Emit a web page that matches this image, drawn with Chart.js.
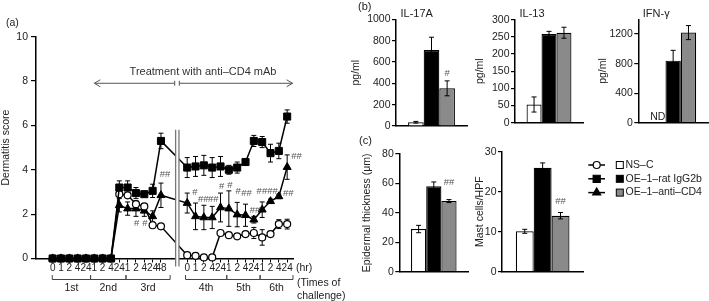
<!DOCTYPE html>
<html>
<head>
<meta charset="utf-8">
<script src="https://cdn.jsdelivr.net/npm/chart.js@4.4.1/dist/chart.umd.min.js"></script>
<style>
  html, body { margin: 0; padding: 0; background: #fff; }
  #wrap { position: relative; width: 709px; height: 301px; overflow: hidden; }
  canvas { position: absolute; }
</style>
</head>
<body>
<div id="wrap">
  <canvas id="scoreChart" width="345" height="301" style="left:0;top:0"></canvas>
  <canvas id="il17Chart" width="125" height="135" style="left:345px;top:0"></canvas>
  <canvas id="il13Chart" width="120" height="135" style="left:470px;top:0"></canvas>
  <canvas id="ifnChart" width="119" height="135" style="left:590px;top:0"></canvas>
  <canvas id="epiChart" width="125" height="166" style="left:345px;top:135px"></canvas>
  <canvas id="mastChart" width="239" height="166" style="left:470px;top:135px"></canvas>
</div>
<script>
Chart.defaults.font.family = '"Liberation Sans", Arial, Helvetica, sans-serif';
Chart.defaults.font.size = 10.5;
Chart.defaults.color = '#222';
Chart.defaults.animation = false;
Chart.defaults.responsive = false;
Chart.defaults.plugins.legend.display = false;
Chart.defaults.plugins.tooltip.enabled = false;

// ---- (a) dermatitis score time course ----
const tickLabels = ['0','1','2','4','24','1','2','4','24','1','2','4','24','48',
                    '0','1','2','4','24','1','2','4','24','1','2','4','24'];
const xPos = [0,1,2,3,4,5,6,7,8,9,10,11,12,13,
              16.15,17.15,18.15,19.15,20.15,21.15,22.15,23.15,24.15,25.15,26.15,27.15,28.15];

const nsc    = [0,0,0,0,0,0,0,0, 2.9,2.85,2.45,2.35,1.5,1.45,
                0.15,0.12,0.05,0.05,1.15,1.05,1.0,1.1,1.15,0.95,1.1,1.55,1.55];
const nscErr = [0,0,0,0,0,0,0,0, 0.1,0.08,0.1,0.1,0.1,0.08,
                0.05,0.05,0.05,0.05,0.08,0.08,0.1,0.12,0.25,0.35,0.1,0.2,0.22];
const rat    = [0,0,0,0,0,0,0,0, 3.2,3.2,2.95,2.9,3.05,5.3,
                4.1,4.15,4.2,4.1,4.15,4.0,4.1,4.35,5.3,5.25,4.75,4.85,6.4];
const ratErr = [0,0,0,0,0,0,0,0, 0.3,0.3,0.25,0.1,0.3,0.35,
                0.45,0.45,0.45,0.45,0.45,0.2,0.25,0.1,0.25,0.25,0.4,0.35,0.3];
const cd4    = [0,0,0,0,0,0,0,0, 2.4,2.25,2.25,2.15,1.9,2.85,
                2.5,1.9,1.85,1.85,2.3,2.25,1.98,1.95,1.75,2.2,2.58,2.8,4.12];
const cd4Err = [0,0,0,0,0,0,0,0, 0.3,0.3,0.35,0.25,0.25,0.55,
                0.45,0.6,0.55,0.5,0.65,0.8,0.55,0.5,0.15,0.35,0.1,0.1,0.55];

const challenges = [
  ['1st', -0.05, 4.55], ['2nd', 4.55, 8.8], ['3rd', 8.8, 14.1],
  ['4th', 15.95, 20.9], ['5th', 20.9, 24.9], ['6th', 24.9, 28.85]
];
const hashMarks = [
  [10.08,1.6,'#'], [11.08,1.6,'#'], [13.5,3.8,'##'],
  [17.08,2.97,'#'], [18.07,2.67,'##'], [19.27,2.67,'##'], [20.28,3.24,'#'], [21.28,3.31,'#'],
  [22.27,3.01,'#'], [23.28,2.94,'##'], [24.28,2.19,'##'], [25.75,3.04,'####'],
  [28.27,2.94,'##'], [29.28,4.59,'##']
];

// ---- (b), (c) bar panels ----
const groups  = ['NS–C', 'OE–1–rat IgG2b', 'OE–1–anti–CD4'];
const barFill = ['#ffffff', '#000000', '#8a8a8a'];
const il17 = [35, 712, 353],   il17Err = [8, 120, 70];
const il13 = [53, 258, 262],   il13Err = [22, 8, 16];
const ifn  = [null, 840, 1220], ifnErr = [0, 140, 95];
const epi  = [29, 58, 48],     epiErr  = [2.5, 3, 1];
const mast = [10.1, 26, 14],   mastErr = [0.5, 1.2, 0.8];

const pts = arr => arr.map((v, i) => ({x: xPos[i], y: v}));

// error bars for both chart types
function drawErrors(chart) {
  const {ctx, scales: {y}} = chart;
  ctx.save();
  ctx.strokeStyle = '#000';
  ctx.lineWidth = 1;
  chart.data.datasets.forEach((ds, di) => {
    if (!ds.errors) return;
    const meta = chart.getDatasetMeta(di);
    ds.data.forEach((d, i) => {
      const v = (d !== null && typeof d === 'object') ? d.y : d;
      const e = ds.errors[i];
      if (v === null || !e) return;
      const px = meta.data[i].x;
      const t = y.getPixelForValue(v + e), b = y.getPixelForValue(v - e);
      ctx.beginPath();
      ctx.moveTo(px, t); ctx.lineTo(px, b);
      ctx.moveTo(px - 2.5, t); ctx.lineTo(px + 2.5, t);
      ctx.moveTo(px - 2.5, b); ctx.lineTo(px + 2.5, b);
      ctx.stroke();
    });
  });
  ctx.restore();
}
const errorBars = {
  id: 'errorBars',
  beforeDatasetsDraw(chart) { if (chart.config.type === 'line') drawErrors(chart); },
  afterDatasetsDraw(chart) { if (chart.config.type === 'bar') drawErrors(chart); }
};

const scoreExtras = {
  id: 'scoreExtras',
  afterDraw(chart) {
    const {ctx, chartArea: a, scales: {x, y}} = chart;
    ctx.save();
    ctx.font = '10.5px "Liberation Sans", Arial, sans-serif';
    ctx.textBaseline = 'middle';

    // axis break
    const b1 = x.getPixelForValue(14.76), b2 = x.getPixelForValue(15.16);
    const bTop = y.getPixelForValue(5.8);
    ctx.fillStyle = '#fff';
    ctx.fillRect(b1, bTop, b2 - b1, a.bottom + 9 - bTop);
    ctx.strokeStyle = '#777';
    ctx.lineWidth = 1.3;
    ctx.beginPath();
    ctx.moveTo(b1, bTop); ctx.lineTo(b1, a.bottom + 8);
    ctx.moveTo(b2, bTop); ctx.lineTo(b2, a.bottom + 8);
    ctx.stroke();

    // challenge brackets
    ctx.fillStyle = '#222';
    ctx.strokeStyle = '#444';
    ctx.lineWidth = 1;
    ctx.textAlign = 'center';
    challenges.forEach(([lab, from, to]) => {
      const l = x.getPixelForValue(from), r = x.getPixelForValue(to);
      ctx.beginPath();
      ctx.moveTo(l, a.bottom + 16.5); ctx.lineTo(l, a.bottom + 21);
      ctx.lineTo(r, a.bottom + 21); ctx.lineTo(r, a.bottom + 16.5);
      ctx.stroke();
      ctx.fillText(lab, (l + r) / 2, a.bottom + 30);
    });
    ctx.textAlign = 'left';
    ctx.fillText('(hr)', 296, a.bottom + 9.5);
    ctx.fillText('(Times of', 297, a.bottom + 25);
    ctx.fillText('challenge)', 297, a.bottom + 38);
    ctx.fillText('(a)', 6, 23.5);

    // treatment arrow
    const ay = y.getPixelForValue(7.9);
    const al = x.getPixelForValue(5), ar = x.getPixelForValue(28.8);
    const g1 = x.getPixelForValue(14.65), g2 = x.getPixelForValue(15.2);
    ctx.strokeStyle = '#555';
    ctx.lineWidth = 1;
    ctx.beginPath();
    ctx.moveTo(al, ay); ctx.lineTo(g1, ay);
    ctx.moveTo(g2, ay); ctx.lineTo(ar, ay);
    ctx.moveTo(g1, ay - 2.5); ctx.lineTo(g1, ay + 2.5);
    ctx.moveTo(g2, ay - 2.5); ctx.lineTo(g2, ay + 2.5);
    ctx.moveTo(al + 6, ay - 3.5); ctx.lineTo(al, ay); ctx.lineTo(al + 6, ay + 3.5);
    ctx.moveTo(ar - 6, ay - 3.5); ctx.lineTo(ar, ay); ctx.lineTo(ar - 6, ay + 3.5);
    ctx.stroke();
    ctx.fillStyle = '#333';
    ctx.font = '11px "Liberation Sans", Arial, sans-serif';
    ctx.textAlign = 'center';
    ctx.fillText('Treatment with anti–CD4 mAb', x.getPixelForValue(18.05), ay - 11.6);

    // significance marks
    ctx.fillStyle = '#555';
    ctx.font = '9.5px "Liberation Sans", Arial, sans-serif';
    hashMarks.forEach(([hx, hy, t]) => {
      ctx.fillText(t, x.getPixelForValue(hx), y.getPixelForValue(hy));
    });
    ctx.restore();
  }
};

const lineStyle = {borderColor: '#000', borderWidth: 1.5, pointBorderColor: '#000',
                   pointBorderWidth: 1, clip: false, tension: 0};

new Chart(document.getElementById('scoreChart'), {
  type: 'line',
  data: {
    datasets: [
      {...lineStyle, label: groups[1], data: pts(rat), errors: ratErr,
       pointStyle: 'rect', pointRadius: 5, pointBackgroundColor: '#000'},
      {...lineStyle, label: groups[0], data: pts(nsc), errors: nscErr,
       pointStyle: 'circle', pointRadius: 3.5, pointBackgroundColor: '#fff', pointBorderWidth: 1.2},
      {...lineStyle, label: groups[2], data: pts(cd4), errors: cd4Err,
       pointStyle: 'triangle', pointRadius: 4.6, pointBackgroundColor: '#000'}
    ]
  },
  options: {
    layout: {autoPadding: false, padding: {left: 0, top: 36.7, right: 52, bottom: 22.5}},
    scales: {
      x: {
        type: 'linear', min: -2, max: 28.85,
        afterBuildTicks: s => { s.ticks = xPos.map(v => ({value: v})); },
        ticks: {autoSkip: false, maxRotation: 0, minRotation: 0, padding: 0,
                font: {size: 10}, callback: (v, i) => tickLabels[i]},
        grid: {drawOnChartArea: false, tickLength: 4, color: '#000', lineWidth: 1},
        border: {color: '#000', width: 1.5},
        afterFit: s => { s.height = 20; }
      },
      y: {
        min: 0, max: 10,
        ticks: {stepSize: 2, padding: 3, callback: v => String(v)},
        grid: {drawOnChartArea: false, tickLength: 5, color: '#000', lineWidth: 1.2},
        border: {color: '#000', width: 1.5},
        title: {display: true, text: 'Dermatitis score', padding: {top: 0, bottom: 0}},
        afterFit: s => { s.width = 36; }
      }
    }
  },
  plugins: [errorBars, scoreExtras]
});

// text drawn on bar panels: titles, panel letters, marks, legend
function panelText(o) {
  return {
    id: 'panelText',
    afterDraw(chart) {
      const {ctx, chartArea: a, scales: {y}} = chart;
      ctx.save();
      ctx.fillStyle = '#222';
      ctx.textBaseline = 'middle';
      ctx.font = '11px "Liberation Sans", Arial, sans-serif';
      if (o.title) ctx.fillText(o.title, a.left + 4.5, a.top - 5.3);
      if (o.letter) ctx.fillText(o.letter[0], o.letter[1], o.letter[2]);
      const bars = chart.getDatasetMeta(1).data;
      if (o.hash) {
        ctx.fillStyle = '#555';
        ctx.font = '9.5px "Liberation Sans", Arial, sans-serif';
        ctx.textAlign = 'center';
        ctx.fillText(o.hash[1], chart.getDatasetMeta(2).data[0].x, y.getPixelForValue(o.hash[0]));
      }
      if (o.nd) {
        ctx.fillStyle = '#222';
        ctx.font = '10.5px "Liberation Sans", Arial, sans-serif';
        ctx.textAlign = 'center';
        ctx.textBaseline = 'bottom';
        ctx.fillText('ND', bars[0].x - bars[0].width, a.bottom);
      }
      if (o.legend) {
        const rows = [['circle', '#fff', 3.5], ['rect', '#000', 5], ['triangle', '#8a8a8a', 4.6]];
        ctx.font = '10.5px "Liberation Sans", Arial, sans-serif';
        ctx.textBaseline = 'middle';
        ctx.textAlign = 'left';
        rows.forEach(([st, fill, r], i) => {
          const ry = 30 + i * 13.8;
          ctx.strokeStyle = '#000';
          ctx.lineWidth = 1.5;
          ctx.beginPath(); ctx.moveTo(118.3, ry); ctx.lineTo(135, ry); ctx.stroke();
          ctx.fillStyle = st === 'circle' ? '#fff' : '#000';
          ctx.lineWidth = 1.2;
          Chart.helpers.drawPoint(ctx, {pointStyle: st, rotation: 0, radius: r, borderWidth: 1.2},
                                  126.7, ry);
          ctx.fillStyle = fill;
          ctx.fillRect(146.3, ry - 3.5, 7, 7);
          ctx.lineWidth = 1;
          ctx.strokeRect(146.3, ry - 3.5, 7, 7);
          ctx.fillStyle = '#222';
          ctx.fillText(groups[i], 155.5, ry);
        });
      }
      ctx.restore();
    }
  };
}

function barChart(id, vals, errs, o) {
  return new Chart(document.getElementById(id), {
    type: 'bar',
    data: {
      labels: [''],
      datasets: groups.map((g, i) => ({
        label: g, data: [vals[i]], errors: [errs[i]],
        backgroundColor: barFill[i], borderColor: '#000', borderWidth: 1.2,
        categoryPercentage: 0.66, barPercentage: 1
      }))
    },
    options: {
      layout: {autoPadding: false, padding: o.pad},
      scales: {
        x: {
          grid: {display: false}, ticks: {display: false},
          border: {color: '#000', width: 1.5},
          afterFit: s => { s.height = 0; }
        },
        y: {
          min: 0, max: o.max,
          ticks: {stepSize: o.step, padding: 1.5, callback: v => String(v)},
          grid: {drawOnChartArea: false, tickLength: 4, color: '#000', lineWidth: 1.2},
          border: {color: '#000', width: 1.5},
          title: {display: true, text: o.yTitle, padding: {top: o.tp, bottom: 0}},
          afterFit: s => { s.width = o.yw; }
        }
      }
    },
    plugins: [errorBars, panelText(o)]
  });
}

barChart('il17Chart', il17, il17Err, {
  max: 1000, step: 200, yTitle: 'pg/ml', yw: 51, tp: 4.7, title: 'IL-17A',
  letter: ['(b)', 13, 6.7], hash: [490, '#'],
  pad: {left: 0, top: 19.3, right: 3, bottom: 9}
});
barChart('il13Chart', il13, il13Err, {
  max: 300, step: 50, yTitle: 'pg/ml', yw: 45, tp: 3.7, title: 'IL-13',
  pad: {left: 0, top: 19.7, right: 7, bottom: 12.3}
});
barChart('ifnChart', ifn, ifnErr, {
  max: 1400, step: 200, yTitle: 'pg/ml', yw: 48.3, tp: 7, title: 'IFN-γ', nd: true,
  pad: {left: 0, top: 19.3, right: 1, bottom: 12.3}
});
barChart('epiChart', epi, epiErr, {
  max: 80, step: 20, yTitle: 'Epidermal thickness (μm)', yw: 54.3, tp: 15.4,
  letter: ['(c)', 14, 5.7], hash: [61, '##'],
  pad: {left: 0, top: 19, right: 1.7, bottom: 29.3}
});
barChart('mastChart', mast, mastErr, {
  max: 30, step: 10, yTitle: 'Mast cells/HPF', yw: 32, tp: 3.7,
  hash: [17.5, '##'], legend: true,
  pad: {left: 0, top: 16.7, right: 125.7, bottom: 29.3}
});
</script>
</body>
</html>
